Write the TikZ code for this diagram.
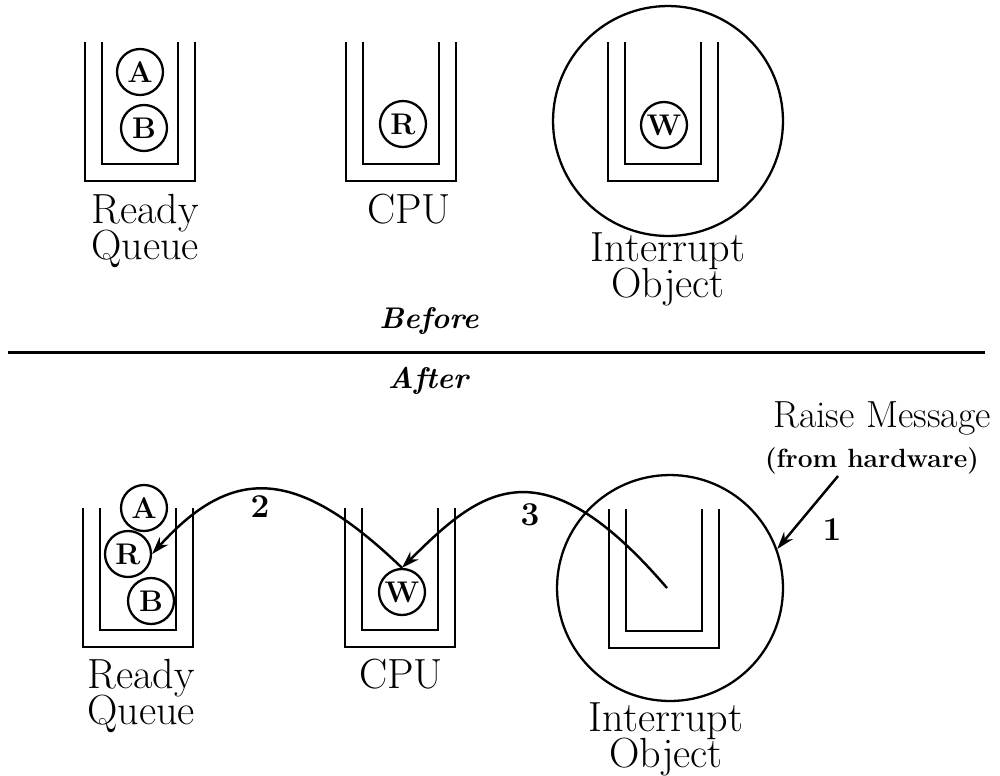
\documentclass[tikz,border=0pt]{standalone}
\usepackage{tikz}
\usetikzlibrary{arrows.meta, calc}

\tikzset{
    wall/.style={line width=1.6pt},
    job/.style={circle, draw, line width=1.3pt, minimum size=0.92cm, inner sep=0pt,
        font=\fontsize{17}{17}\selectfont\bfseries},
    ring/.style={circle, draw, line width=1.3pt, inner sep=0pt},
    lbl/.style={align=center, inner sep=0pt, anchor=north,
        font=\fontsize{24}{20}\selectfont},
    phase/.style={inner sep=0pt, anchor=base, font=\fontsize{17}{17}\selectfont\bfseries\itshape},
    num/.style={inner sep=0pt, font=\fontsize{19}{19}\selectfont\bfseries},
    flow/.style={line width=1.4pt, -{Stealth[length=10pt, width=6.5pt]}}
}

\begin{document}
\begin{tikzpicture}[x=0.02cm, y=-0.02cm]

    \useasboundingbox (0,0) rectangle (1000,775);

    %% --- Before: queue tops ---
    \coordinate (RQa) at (140,42);
    \coordinate (CPUa) at (401,42);
    \coordinate (IOa) at (663,42);

    %% Interrupt object
    \node[ring, minimum size=4.6cm] (ringa) at (668,121) {};

    %% Queues
    \draw[wall] (RQa) ++(-55,0) |- ++(110,139) -- ++(0,-139);
    \draw[wall] (RQa) ++(-38,0) |- ++(76,122) -- ++(0,-122);
    \draw[wall] (CPUa) ++(-55,0) |- ++(110,139) -- ++(0,-139);
    \draw[wall] (CPUa) ++(-38,0) |- ++(76,122) -- ++(0,-122);
    \draw[wall] (IOa) ++(-55,0) |- ++(110,139) -- ++(0,-139);
    \draw[wall] (IOa) ++(-38,0) |- ++(76,122) -- ++(0,-122);

    %% Processes
    \node[job] (A1) at (140,72) {A};
    \node[job] (B1) at (144,128) {B};
    \node[job] (R1) at (403,124) {R};
    \node[job] (W1) at (664,125) {W};

    %% Labels
    \node[lbl] (rqtxt1) at (145,194) {Ready\\[-2pt]Queue};
    \node[lbl] (cputxt1) at (409,194) {CPU};
    \node[lbl] (iotxt1) at (668,232) {Interrupt\\[-2pt]Object};

    %% --- Divider ---
    \coordinate (Lend) at (8,352);
    \coordinate (Rend) at (985,352);
    \draw[line width=1.7pt] (Lend) -- (Rend);
    \node[phase] (before) at (429,328) {Before};
    \node[phase] (after) at (428,388) {After};

    %% --- After: queue tops ---
    \coordinate (RQb) at (138,508);
    \coordinate (CPUb) at (400,508);
    \coordinate (IOb) at (664,509);

    %% Interrupt object
    \node[ring, minimum size=4.52cm] (ringb) at (670,588) {};

    %% Queues
    \draw[wall] (RQb) ++(-55,0) |- ++(110,139) -- ++(0,-139);
    \draw[wall] (RQb) ++(-38,0) |- ++(76,122) -- ++(0,-122);
    \draw[wall] (CPUb) ++(-55,0) |- ++(110,139) -- ++(0,-139);
    \draw[wall] (CPUb) ++(-38,0) |- ++(76,122) -- ++(0,-122);
    \draw[wall] (IOb) ++(-55,0) |- ++(110,139) -- ++(0,-139);
    \draw[wall] (IOb) ++(-38,0) |- ++(76,122) -- ++(0,-122);

    %% Processes
    \node[job] (A2) at (144,508) {A};
    \node[job] (R2) at (128,554) {R};
    \node[job] (B2) at (151,601) {B};
    \node[job] (W2) at (402,592) {W};

    %% Labels
    \node[lbl] (rqtxt2) at (141,659) {Ready\\[-2pt]Queue};
    \node[lbl] (cputxt2) at (401,659) {CPU};
    \node[lbl] (iotxt2) at (666,702) {Interrupt\\[-2pt]Object};

    %% Raise message
    \node[inner sep=0pt, anchor=base, font=\fontsize{21.5}{21.5}\selectfont] (raise) at (882,427) {Raise Message};
    \node[inner sep=0pt, anchor=base, font=\fontsize{15}{15}\selectfont\bfseries] (hw) at (872,467) {(from hardware)};
    \coordinate (hwfoot) at (838,476);

    %% Steps
    \coordinate (src) at (667,588);
    \draw[flow] (hwfoot) -- (ringb.20);
    \draw[flow] (W2.north) .. controls (300,470) and (235,462) .. (R2.east);
    \draw[flow] (src) .. controls (540,440) and (480,490) .. (W2.north);

    \node[num] (n1) at (832,530) {1};
    \node[num] (n2) at (260,507) {2};
    \node[num] (n3) at (530,515) {3};

\end{tikzpicture}
\end{document}
